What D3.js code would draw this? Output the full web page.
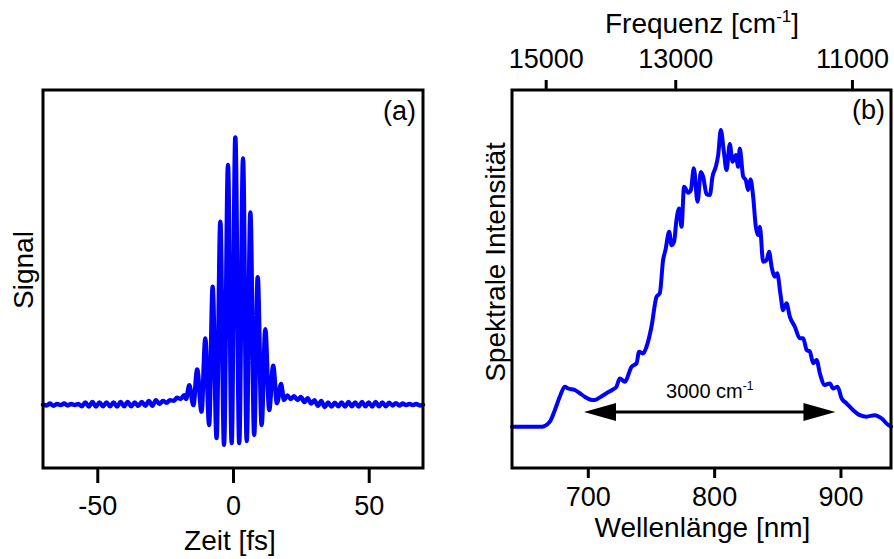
<!DOCTYPE html>
<html>
<head>
<meta charset="utf-8">
<script src="https://cdn.jsdelivr.net/npm/d3@7"></script>
<style>
  html, body { margin: 0; padding: 0; background: #fff; }
  svg text { font-family: "Liberation Sans", Arial, sans-serif; fill: #000; }
</style>
</head>
<body>
<svg id="chart" width="894" height="559"></svg>
<script>
// ---------- Panel (a): interferometric autocorrelation ----------
const timeFs = [
  -70, -68.7, -67.4, -66.1, -64.8, -63.5, -62.2, -60.9, -59.6, -58.3, -57, -55.7, -54.4, -53.1,
  -51.8, -50.5, -49.2, -47.9, -46.6, -45.3, -44, -42.7, -41.4, -40.1, -38.8, -37.5, -36.2,
  -34.9, -33.6, -32.3, -31, -29.7, -28.4, -27.1, -25.8, -24.5, -23.2, -21.9, -20.6, -19.3,
  -18.0, -17.3,
  -16.1, -14.6, -13.2, -11.6, -10.2, -8.8, -7.5, -6.05, -4.67, -3.3, -1.85, -0.5, 0.86, 2.3,
  3.69, 5.05, 6.4, 7.8, 9.1, 10.55, 11.9, 13.35, 14.8, 16.2, 17.7,
  18.8, 20.0, 21.3, 22.5, 23.8, 25.0, 26.3, 27.5, 28.8, 30.0, 31.3, 32.5, 33.8, 35.0, 36.3,
  37.5, 38.8, 40.0, 41.3, 42.5, 43.8, 45.0, 46.3, 47.5, 48.8, 50.0, 51.3, 52.5, 53.8, 55.0,
  56.3, 57.5, 58.8, 60.0, 61.3, 62.5, 63.8, 65.0, 66.3, 67.5, 68.8, 70.0
];
const signalValues = [
  1.00, 0.98, 1.03, 0.97, 1.02, 0.99, 1.03, 0.98, 1.02, 0.99, 1.02, 0.96, 1.06, 0.95,
  1.07, 0.95, 1.06, 0.96, 1.06, 0.96, 1.06, 0.95, 1.07, 0.96, 1.07, 0.96, 1.06,
  0.97, 1.07, 0.97, 1.10, 0.97, 1.12, 1.02, 1.10, 1.05, 1.12, 1.10, 1.18, 1.15,
  1.25, 1.15,
  1.51, 0.99, 1.92, 0.82, 2.73, 0.47, 4.08, 0.13, 5.78, -0.05, 7.26, 0.00, 7.98, 0.00,
  7.43, 0.05, 6.02, 0.21, 4.33, 0.47, 2.97, 0.86, 2.02, 1.04, 1.54,
  1.12, 1.24, 1.15, 1.22, 1.12, 1.20, 1.07, 1.17, 1.03, 1.12, 0.97, 1.10, 0.94, 1.06, 0.95,
  1.05, 0.96, 1.06, 0.95, 1.07, 0.96, 1.06, 0.95, 1.07, 0.96, 1.06, 0.95, 1.07, 0.96, 1.06,
  0.96, 1.05, 0.98, 1.04, 0.98, 1.03, 0.99, 1.02, 0.99, 1.02, 0.98, 1.00
];
const timeTicks = [-50, 0, 50];

// ---------- Panel (b): spectrum ----------
const wavelengthNm = [
  640, 663.3, 669.9, 673.9, 677.8, 681.8, 684.4, 689.7, 693.7, 697.6, 701.6, 705.5, 709.5,
  714.8, 720.0, 722.7, 725.3, 729.3, 734.6, 738.6, 740.6, 743.8, 746.5, 750.4, 754.4, 757.0,
  759.6, 761.5, 764.4, 766.3, 768.3, 770.2, 772.3, 774.2, 776.2, 779.4, 781.6, 783.9, 786.9,
  789.5, 791.3, 794.0, 796.6, 798.7, 801.3, 803.2, 805.3, 807.7, 809.8, 812.4, 814.6, 817.2,
  819.0, 820.3, 823.0, 825.1, 826.9, 828.8, 830.9, 833.0, 834.8, 836.2, 838.8, 841.5, 843.5,
  845.5, 848.1, 849.9, 852.6, 854.6, 857.3, 859.9, 863.9, 867.8, 870.5, 873.2, 875.8, 878.4,
  881.1, 883.7, 887.6, 891.6, 894.2, 897.7, 900.9, 904.8, 910.1, 915.4, 920.7, 927.2, 932.5,
  937.8, 940
];
const intensityValues = [
  0.000, 0.000, 0.017, 0.056, 0.101, 0.135, 0.129, 0.124, 0.113, 0.101, 0.092, 0.090, 0.099,
  0.113, 0.126, 0.135, 0.163, 0.152, 0.202, 0.214, 0.253, 0.247, 0.270, 0.337, 0.438, 0.450,
  0.562, 0.596, 0.657, 0.612, 0.624, 0.697, 0.736, 0.674, 0.809, 0.789, 0.798, 0.871, 0.758,
  0.859, 0.843, 0.784, 0.781, 0.843, 0.876, 0.916, 1.000, 0.927, 0.865, 0.953, 0.893, 0.916,
  0.876, 0.938, 0.843, 0.831, 0.798, 0.834, 0.775, 0.674, 0.646, 0.674, 0.556, 0.562, 0.590,
  0.539, 0.506, 0.517, 0.444, 0.393, 0.416, 0.371, 0.337, 0.298, 0.298, 0.259, 0.253, 0.214,
  0.225, 0.180, 0.141, 0.146, 0.129, 0.135, 0.096, 0.079, 0.056, 0.039, 0.034, 0.039, 0.028,
  0.006, 0.000
];
const wavelengthTicks = [700, 800, 900];
const frequencyTicks = [15000, 13000, 11000];
const arrowNm = [697, 896];
const arrowLevel = 0.05;

// ---------- drawing ----------
const svg = d3.select("#chart");
const BLUE = "#0000ff";

// Panel (a)
const A = { left: 43, right: 423, top: 90, bottom: 468 };
const xA = d3.scaleLinear().domain([-70, 70]).range([A.left, A.right]);
const yA = d3.scaleLinear().domain([-0.653, 9.22]).range([A.bottom, A.top]);

const gA = svg.append("g");
const dataA = timeFs.map((t, i) => ({ t, v: signalValues[i] }));
gA.append("path")
  .datum(dataA)
  .attr("fill", "none")
  .attr("stroke", BLUE)
  .attr("stroke-width", 4.4)
  .attr("stroke-linejoin", "round")
  .attr("stroke-linecap", "round")
  .attr("d", d3.line().x(d => xA(d.t)).y(d => yA(d.v)).curve(d3.curveMonotoneX));

const axA = gA.append("g")
  .attr("transform", `translate(0,${A.bottom})`)
  .call(d3.axisBottom(xA).tickValues(timeTicks).tickSize(15).tickFormat(d3.format("d")));
axA.select(".domain").remove();
axA.selectAll(".tick line").attr("stroke", "#000").attr("stroke-width", 3);
axA.selectAll(".tick text").attr("dy", null).attr("y", 47)
  .style("font-size", "27px").text(d => d < 0 ? "-" + Math.abs(d) : d);

gA.append("rect")
  .attr("x", A.left).attr("y", A.top)
  .attr("width", A.right - A.left).attr("height", A.bottom - A.top)
  .attr("fill", "none").attr("stroke", "#000").attr("stroke-width", 3);

gA.append("text").attr("x", (A.left + A.right) / 2 - 3).attr("y", 550)
  .attr("text-anchor", "middle").style("font-size", "28px").text("Zeit [fs]");
gA.append("text").attr("transform", "translate(33,270) rotate(-90)")
  .attr("text-anchor", "middle").style("font-size", "28px").text("Signal");
gA.append("text").attr("x", 416).attr("y", 120)
  .attr("text-anchor", "end").style("font-size", "27px").text("(a)");

// Panel (b)
const B = { left: 512, right: 891, top: 90, bottom: 468 };
const xB = d3.scaleLinear().domain([640, 940]).range([B.left, B.right]);
const yB = d3.scaleLinear().domain([-0.139, 1.135]).range([B.bottom, B.top]);
const fB = d3.scalePow().exponent(-1).domain([1e7 / 640, 1e7 / 940]).range([B.left, B.right]);

const gB = svg.append("g");
const dataB = wavelengthNm.map((w, i) => ({ w, v: intensityValues[i] }));
gB.append("path")
  .datum(dataB)
  .attr("fill", "none")
  .attr("stroke", BLUE)
  .attr("stroke-width", 4)
  .attr("stroke-linejoin", "round")
  .attr("stroke-linecap", "round")
  .attr("d", d3.line().x(d => xB(d.w)).y(d => yB(d.v)).curve(d3.curveMonotoneX));

const axB = gB.append("g")
  .attr("transform", `translate(0,${B.bottom})`)
  .call(d3.axisBottom(xB).tickValues(wavelengthTicks).tickSize(10).tickFormat(d3.format("d")));
axB.select(".domain").remove();
axB.selectAll(".tick line").attr("stroke", "#000").attr("stroke-width", 3);
axB.selectAll(".tick text").attr("dy", null).attr("y", 38).style("font-size", "27px");

const axT = gB.append("g")
  .attr("transform", `translate(0,${B.top})`)
  .call(d3.axisTop(fB).tickValues(frequencyTicks).tickSize(10).tickFormat(d3.format("d")));
axT.select(".domain").remove();
axT.selectAll(".tick line").attr("stroke", "#000").attr("stroke-width", 3);
axT.selectAll(".tick text").attr("dy", null).attr("y", -22).style("font-size", "27px");

gB.append("rect")
  .attr("x", B.left).attr("y", B.top)
  .attr("width", B.right - B.left).attr("height", B.bottom - B.top)
  .attr("fill", "none").attr("stroke", "#000").attr("stroke-width", 3);

// arrow
const ay = yB(arrowLevel);
const ax0 = xB(arrowNm[0]), ax1 = xB(arrowNm[1]);
const headL = 32, headH = 9;
gB.append("line").attr("x1", ax0 + headL - 2).attr("x2", ax1 - headL + 2)
  .attr("y1", ay).attr("y2", ay).attr("stroke", "#000").attr("stroke-width", 3);
gB.append("path").attr("fill", "#000")
  .attr("d", `M${ax0},${ay} L${ax0 + headL},${ay - headH} L${ax0 + headL},${ay + headH} Z`);
gB.append("path").attr("fill", "#000")
  .attr("d", `M${ax1},${ay} L${ax1 - headL},${ay - headH} L${ax1 - headL},${ay + headH} Z`);

const lab = gB.append("text").attr("x", (ax0 + ax1) / 2).attr("y", 398)
  .attr("text-anchor", "middle").style("font-size", "20px");
lab.append("tspan").text("3000 cm");
lab.append("tspan").attr("dy", -8).style("font-size", "12px").text("-1");

const ft = gB.append("text").attr("x", 702).attr("y", 33)
  .attr("text-anchor", "middle").style("font-size", "28px");
ft.append("tspan").text("Frequenz [cm");
ft.append("tspan").attr("dy", -11).style("font-size", "17px").text("-1");
ft.append("tspan").attr("dy", 11).text("]");

gB.append("text").attr("x", (B.left + B.right) / 2 + 1).attr("y", 537)
  .attr("text-anchor", "middle").style("font-size", "28px").text("Wellenlänge [nm]");
gB.append("text").attr("transform", "translate(505,262) rotate(-90)")
  .attr("text-anchor", "middle").style("font-size", "28px").text("Spektrale Intensität");
gB.append("text").attr("x", 885).attr("y", 119)
  .attr("text-anchor", "end").style("font-size", "27px").text("(b)");
</script>
</body>
</html>
